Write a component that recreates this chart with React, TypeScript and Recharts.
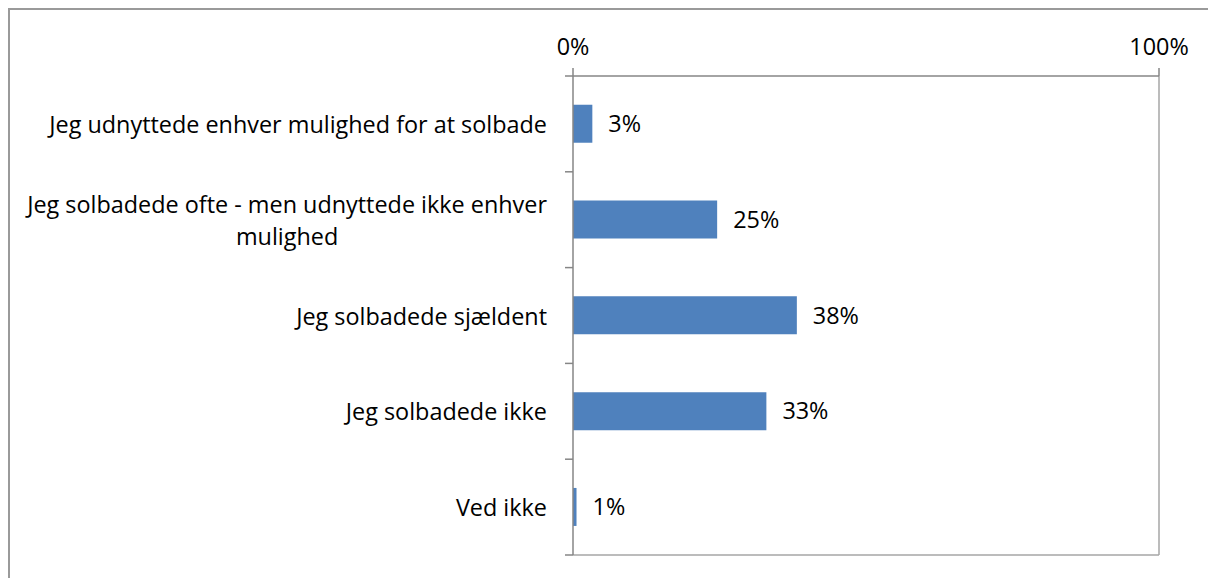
import React from "react";
import { BarChart, Bar, XAxis, YAxis, LabelList, CartesianGrid } from "recharts";

const categories = [
  "Jeg udnyttede enhver mulighed for at solbade",
  "Jeg solbadede ofte - men udnyttede ikke enhver mulighed",
  "Jeg solbadede sjældent",
  "Jeg solbadede ikke",
  "Ved ikke",
];
const shares = [3.3, 24.6, 38.2, 33.0, 0.6];
const xTicks = [0, 100];

const data = categories.map((c, i) => ({ category: c, value: shares[i] }));

const W = 1208;
const H = 578;
const M = { top: 20, right: 49, bottom: 23, left: 0 };
const X_AXIS_H = 56;
const Y_AXIS_W = 573;
const PLOT_H = H - M.top - M.bottom - X_AXIS_H;
const BAND = PLOT_H / categories.length;
const FONT_NAME = "Open Sans";
const FONT = "'Open Sans', sans-serif";
const FS = 23.4;
const MAX_LABEL_W = 540;
const LINE_H = 32;

let ctx: CanvasRenderingContext2D | null = null;
function measure(s: string): number {
  if (!ctx) {
    const c = document.createElement("canvas");
    ctx = c.getContext("2d");
  }
  if (!ctx) return s.length * FS * 0.5;
  ctx.font = `${FS}px '${FONT_NAME}'`;
  return ctx.measureText(s).width;
}

function wrap(s: string): string[] {
  const words = s.split(" ");
  const lines: string[] = [];
  let cur = "";
  for (const w of words) {
    const t = cur ? cur + " " + w : w;
    if (measure(t) > MAX_LABEL_W && cur) {
      lines.push(cur);
      cur = w;
    } else cur = t;
  }
  if (cur) lines.push(cur);
  return lines;
}

const YTick = (props: any) => {
  const { y, payload, index } = props;
  const axisX = Y_AXIS_W;
  const textRight = axisX - 26;
  const lines = wrap(String(payload.value));
  const widths = lines.map(measure);
  const blockW = Math.max(...widths);
  const cx = textRight - blockW / 2;
  const y0 = y - ((lines.length - 1) * LINE_H) / 2;
  return (
    <g>
      <line x1={axisX - 8} x2={axisX} y1={y - BAND / 2} y2={y - BAND / 2} stroke="#868686" strokeWidth={1.5} />
      {index === categories.length - 1 && (
        <line x1={axisX - 8} x2={axisX} y1={y + BAND / 2} y2={y + BAND / 2} stroke="#868686" strokeWidth={1.5} />
      )}
      <text
        x={lines.length > 1 ? cx : textRight}
        y={y0}
        textAnchor={lines.length > 1 ? "middle" : "end"}
        dominantBaseline="central"
        fontFamily={FONT}
        fontSize={FS}
        fill="#000"
      >
        {lines.map((l, i) => (
          <tspan key={i} x={lines.length > 1 ? cx : textRight} y={y0 + i * LINE_H}>
            {l}
          </tspan>
        ))}
      </text>
    </g>
  );
};

export default function App() {
  return (
    <div style={{ position: "absolute", left: 0, top: 0, width: W, height: H, background: "#fff" }}>
      <div
        style={{
          position: "absolute",
          left: 8,
          top: 8,
          width: W - 8,
          height: H - 8,
          borderLeft: "2px solid #9a9a9a",
          borderTop: "2px solid #9a9a9a",
          boxSizing: "border-box",
        }}
      />
      <div style={{ position: "absolute", left: 0, top: 0 }}>
        <BarChart
          width={W}
          height={H}
          data={data}
          layout="vertical"
          margin={M}
          barCategoryGap="30%"
        >
          <CartesianGrid
            stroke="#a6a6a6"
            strokeWidth={1.5}
            horizontalCoordinatesGenerator={(p: any) => [p.offset.top + p.offset.height]}
            verticalCoordinatesGenerator={(p: any) => [p.offset.left + p.offset.width]}
          />
          <XAxis
            type="number"
            orientation="top"
            domain={[0, 100]}
            ticks={xTicks}
            tickFormatter={(v: number) => `${v}%`}
            height={X_AXIS_H}
            axisLine={{ stroke: "#868686", strokeWidth: 1.5 }}
            tickLine={{ stroke: "#868686", strokeWidth: 1.5 }}
            tickSize={8}
            tickMargin={13}
            tick={{ fill: "#000", fontSize: FS, fontFamily: FONT }}
            interval={0}
          />
          <YAxis
            type="category"
            dataKey="category"
            width={Y_AXIS_W}
            axisLine={{ stroke: "#868686", strokeWidth: 1.5 }}
            tickLine={false}
            tick={<YTick />}
            interval={0}
          />
          <Bar dataKey="value" fill="#4f81bd" isAnimationActive={false}>
            <LabelList
              dataKey="value"
              position="right"
              offset={16}
              formatter={(v: any) => `${Math.round(Number(v))}%`}
              style={{ fill: "#000", fontSize: FS, fontFamily: FONT }}
            />
          </Bar>
        </BarChart>
      </div>
    </div>
  );
}
